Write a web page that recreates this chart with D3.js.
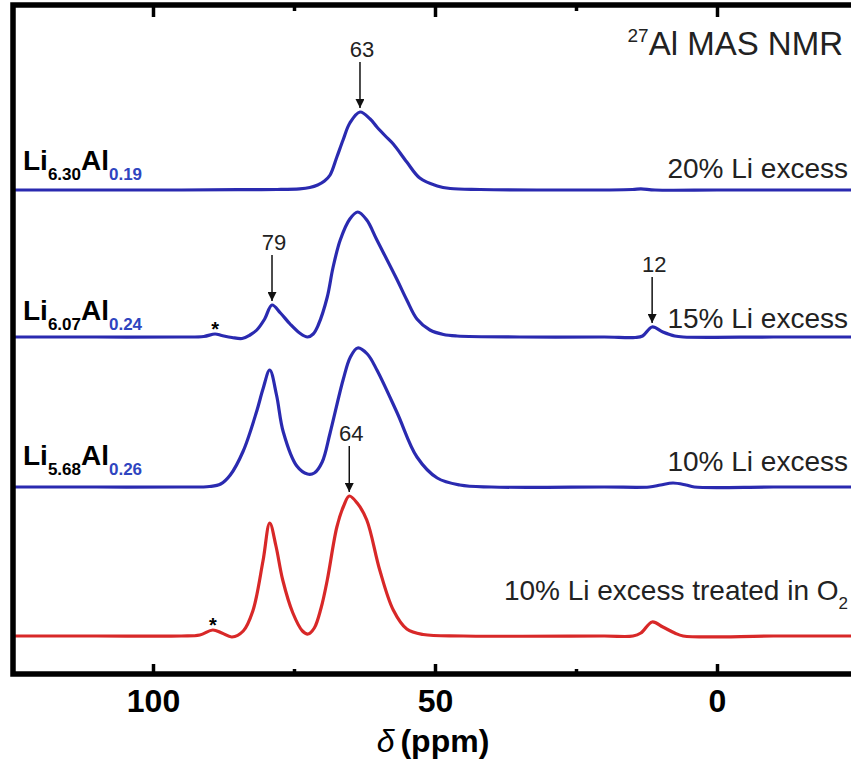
<!DOCTYPE html>
<html>
<head>
<meta charset="utf-8">
<script src="https://cdn.jsdelivr.net/npm/d3@7"></script>
<style>
  body { margin: 0; background: #fff; }
  svg { display: block; font-family: Arial, 'Liberation Sans', sans-serif; }
</style>
</head>
<body>
<div class="nmr-container"></div>
<script>
// spectra: [ppm, intensity above the trace's own baseline]
const li20 = [[125,0],[110,0],[95,0],[85,0.003],[78,0.005],[74,0.012],[72.2,0.025],[70.8,0.05],[69.6,0.09],[68.6,0.15],[67.4,0.33],[66.3,0.5],[65.1,0.67],[63.3,0.78],[61.5,0.71],[60.3,0.63],[58.8,0.54],[57.4,0.46],[55,0.28],[52.7,0.12],[49.6,0.04],[47.3,0.015],[42,0.005],[30,0],[15,0.005],[13.5,0.012],[11,0],[0,0],[-12,0],[-25,0]];
const li15 = [[125,0],[110,0],[95,0],[91,0.005],[89,0.03],[87.8,0.015],[86,-0.005],[84.2,-0.015],[82.8,0.02],[81.6,0.07],[80.2,0.18],[78.9,0.32],[77.4,0.24],[75.7,0.13],[74,0.04],[72.6,0],[71.6,0.03],[70.7,0.12],[69.1,0.4],[68.1,0.69],[66.8,0.97],[65.1,1.18],[63.7,1.25],[62.1,1.17],[60.3,0.97],[56.7,0.57],[55,0.37],[53.2,0.18],[50.9,0.07],[48.5,0.025],[46.1,0.01],[35,0],[20,0],[14.5,-0.005],[13.2,0.01],[11.5,0.1],[9.6,0.05],[7.5,0.01],[6,0],[-10,0],[-25,0]];
const li10 = [[125,0],[110,0],[95,0],[90,0.005],[88,0.03],[86.3,0.12],[84,0.36],[81.6,0.76],[80.5,0.98],[79.3,1.17],[78.1,0.92],[76.9,0.55],[74.5,0.21],[72.6,0.13],[71.4,0.14],[70,0.25],[68.6,0.54],[66.3,1.07],[65,1.3],[63.7,1.39],[62,1.33],[60.3,1.17],[56.7,0.74],[53.2,0.3],[49.6,0.09],[45.6,0.02],[40,0],[20,0],[12,0],[10,0.02],[7.8,0.04],[5.5,0.02],[4,0],[-10,0],[-25,0]];
const li10o2 = [[125,0],[110,0],[95,0],[91.7,0.01],[89.4,0.06],[87.8,0.03],[86,-0.01],[84,0.05],[82.3,0.25],[80.5,0.75],[79.3,1.13],[78.2,0.9],[77,0.56],[75.2,0.23],[73.5,0.05],[72.5,0.02],[71.4,0.08],[70.2,0.28],[69.1,0.56],[67.4,1.09],[66.2,1.3],[65.2,1.4],[63.8,1.33],[62.1,1.16],[59.8,0.66],[57.4,0.26],[55,0.07],[52.1,0.015],[45,0],[20,0],[14.9,0],[13.5,0.03],[11.5,0.14],[9.6,0.09],[7.5,0.03],[6,0],[-10,0],[-25,0]];

// vertical stacking of the traces (intensity units)
const stackOffsets = [4.84, 3.37, 1.87, 0.38];

// labels
const liSub = ['6.30', '6.07', '5.68'];
const alSub = ['0.19', '0.24', '0.26'];
const conditions = ['20% Li excess', '15% Li excess', '10% Li excess', '10% Li excess treated in O'];
const peakMarks = [
  {text: '63', ppm: 63.3, trace: 0},
  {text: '79', ppm: 78.9, trace: 1},
  {text: '12', ppm: 11.5, trace: 1},
  {text: '64', ppm: 65.2, trace: 3}
];
const spinningSidebands = [{ppm: 89, trace: 1}, {ppm: 89.4, trace: 3}];
const majorTicks = [100, 50, 0];
const minorTicks = [75, 25];

function drawChart() {
  const width = 851;
  const height = 767;
  const spectra = [li20, li15, li10, li10o2];
  const traceColors = ['#2a2ab0', '#2a2ab0', '#2a2ab0', '#d82828'];

  const svg = d3.select('.nmr-container')
    .append('svg')
    .attr('width', width)
    .attr('height', height);

  // scales: chemical shift runs right to left
  const xScale = d3.scaleLinear()
    .domain([125, -25])
    .range([12, 858]);

  const yScale = d3.scaleLinear()
    .domain([0, 6.69])
    .range([674, 5]);

  // spectra
  const line = d3.line()
    .x(d => xScale(d[0]))
    .y(d => yScale(d[1]))
    .curve(d3.curveCatmullRom.alpha(0.5));

  svg.append('g')
    .attr('class', 'spectra')
    .selectAll('path')
    .data(spectra)
    .join('path')
    .attr('d', (s, i) => line(s.map(p => [p[0], p[1] + stackOffsets[i]])))
    .attr('fill', 'none')
    .attr('stroke', (d, i) => traceColors[i])
    .attr('stroke-width', 3.2)
    .attr('stroke-linejoin', 'round');

  // frame
  svg.append('rect')
    .attr('x', xScale(125) + 1)
    .attr('y', yScale(6.69))
    .attr('width', xScale(-25) - xScale(125))
    .attr('height', yScale(0) - yScale(6.69))
    .attr('fill', 'none')
    .attr('stroke', '#000')
    .attr('stroke-width', 5.5);

  // axes, ticks point inward
  const xAxis = d3.axisBottom(xScale)
    .tickValues(majorTicks)
    .tickSizeInner(-10)
    .tickSizeOuter(0)
    .tickFormat(d3.format('d'));

  const xAxisDraw = svg.append('g')
    .attr('class', 'x axis')
    .attr('transform', `translate(0, ${yScale(0)})`)
    .call(xAxis);

  xAxisDraw.selectAll('text')
    .attr('y', 38)
    .attr('dy', 0)
    .style('font-size', '32px')
    .style('font-weight', 'bold')
    .style('font-family', 'Arial, "Liberation Sans", sans-serif')
    .attr('fill', '#000');

  svg.append('g')
    .attr('transform', `translate(0, ${yScale(0)})`)
    .call(d3.axisBottom(xScale).tickValues(minorTicks).tickSizeInner(-5).tickSizeOuter(0).tickFormat(''));

  svg.append('g')
    .attr('transform', `translate(0, ${yScale(6.69)})`)
    .call(d3.axisTop(xScale).tickValues(majorTicks).tickSizeInner(-12).tickSizeOuter(0).tickFormat(''));

  svg.append('g')
    .attr('transform', `translate(0, ${yScale(6.69)})`)
    .call(d3.axisTop(xScale).tickValues(minorTicks).tickSizeInner(-6).tickSizeOuter(0).tickFormat(''));

  // the frame draws the axis lines
  svg.selectAll('.domain').remove();
  svg.selectAll('.tick line')
    .attr('stroke', '#000')
    .attr('stroke-width', 3.5);

  // axis title
  const title = svg.append('text')
    .attr('x', 433)
    .attr('y', 752)
    .attr('text-anchor', 'middle')
    .style('font-size', '32px');
  title.append('tspan')
    .style('font-style', 'italic')
    .text('δ');
  title.append('tspan')
    .attr('dx', 6)
    .style('font-weight', 'bold')
    .text('(ppm)');

  // sample names on the left
  const nameLift = [20, 17, 22];
  liSub.forEach((sub, i) => {
    const t = svg.append('text')
      .attr('x', 23)
      .attr('y', yScale(stackOffsets[i]) - nameLift[i])
      .style('font-weight', 'bold')
      .style('font-size', '28px');
    t.append('tspan').text('Li');
    t.append('tspan').attr('dy', 10).style('font-size', '17px').text(sub);
    t.append('tspan').attr('dy', -10).text('Al');
    t.append('tspan').attr('dy', 10).style('font-size', '17px').attr('fill', '#2f45c0').text(alSub[i]);
  });

  // conditions on the right
  const conditionLift = [12, 9, 16, 36];
  conditions.forEach((c, i) => {
    const t = svg.append('text')
      .attr('x', 848)
      .attr('y', yScale(stackOffsets[i]) - conditionLift[i])
      .attr('text-anchor', 'end')
      .attr('fill', '#222')
      .style('font-size', '28px');
    t.append('tspan').text(c);
    if (i === 3) {
      t.append('tspan').attr('dy', 9).style('font-size', '17px').text('2');
    }
  });

  // nucleus / method
  const nmr = svg.append('text')
    .attr('x', 843)
    .attr('y', 55)
    .attr('text-anchor', 'end')
    .attr('fill', '#222')
    .style('font-size', '33px');
  nmr.append('tspan').attr('dy', -13).style('font-size', '19px').text('27');
  nmr.append('tspan').attr('dy', 13).text('Al MAS NMR');

  // peak arrows
  svg.append('defs')
    .append('marker')
    .attr('id', 'head')
    .attr('viewBox', '0 0 10 10')
    .attr('refX', 10)
    .attr('refY', 5)
    .attr('markerWidth', 9)
    .attr('markerHeight', 9)
    .attr('markerUnits', 'userSpaceOnUse')
    .attr('orient', 'auto')
    .append('path')
    .attr('d', 'M0,0 L10,5 L0,10 Z')
    .attr('fill', '#111');

  const peakTop = m => {
    const s = spectra[m.trace];
    const p = d3.least(s, d => Math.abs(d[0] - m.ppm));
    return yScale(p[1] + stackOffsets[m.trace]);
  };

  const marks = svg.append('g')
    .attr('class', 'peak-marks')
    .selectAll('g')
    .data(peakMarks)
    .join('g');

  marks.append('line')
    .attr('x1', d => xScale(d.ppm))
    .attr('x2', d => xScale(d.ppm))
    .attr('y1', d => peakTop(d) - 50)
    .attr('y2', d => peakTop(d) - 4)
    .attr('stroke', '#111')
    .attr('stroke-width', 1.5)
    .attr('marker-end', 'url(#head)');

  marks.append('text')
    .attr('x', d => xScale(d.ppm) + 2)
    .attr('y', d => peakTop(d) - 55)
    .attr('text-anchor', 'middle')
    .attr('fill', '#222')
    .style('font-size', '22px')
    .text(d => d.text);

  // spinning sidebands
  svg.append('g')
    .selectAll('text')
    .data(spinningSidebands)
    .join('text')
    .attr('x', d => xScale(d.ppm))
    .attr('y', d => peakTop(d) + 2)
    .attr('text-anchor', 'middle')
    .style('font-size', '20px')
    .style('font-weight', 'bold')
    .text('*');
}

drawChart();
</script>
</body>
</html>
